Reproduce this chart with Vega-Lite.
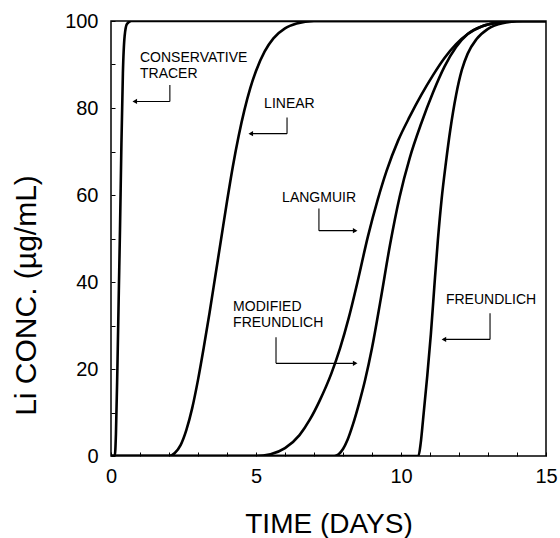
{
  "$schema": "https://vega.github.io/schema/vega-lite/v6.json",
  "width": 435,
  "height": 435,
  "autosize": "none",
  "padding": {"left": 111, "top": 21, "right": 14, "bottom": 82},
  "background": "white",
  "config": {
    "font": "Liberation Sans",
    "view": {"stroke": "black", "strokeWidth": 1.5},
    "axis": {
      "grid": false,
      "domain": false,
      "ticks": true,
      "tickColor": "black",
      "tickSize": -4,
      "tickWidth": 1,
      "labelColor": "black",
      "labelFont": "Liberation Sans",
      "labelFontSize": 20,
      "labelOverlap": false,
      "labelFlush": false,
      "titleColor": "black",
      "titleFont": "Liberation Sans",
      "titleFontSize": 28,
      "titleFontWeight": "normal"
    }
  },
  "datasets": {
    "curves": [
      {"s": "tracer", "t": 0, "c": 0}, {"s": "tracer", "t": 0.13, "c": 0}, {"s": "tracer", "t": 0.17, "c": 5}, {"s": "tracer", "t": 0.22, "c": 20}, {"s": "tracer", "t": 0.27, "c": 38}, {"s": "tracer", "t": 0.31, "c": 52}, {"s": "tracer", "t": 0.36, "c": 72}, {"s": "tracer", "t": 0.41, "c": 88}, {"s": "tracer", "t": 0.47, "c": 96.5}, {"s": "tracer", "t": 0.55, "c": 99.3}, {"s": "tracer", "t": 0.7, "c": 100}, {"s": "tracer", "t": 15, "c": 100},
      {"s": "linear", "t": 0, "c": 0}, {"s": "linear", "t": 2.0, "c": 0}, {"s": "linear", "t": 2.2, "c": 0.7}, {"s": "linear", "t": 2.4, "c": 2.5}, {"s": "linear", "t": 2.6, "c": 6}, {"s": "linear", "t": 2.8, "c": 11}, {"s": "linear", "t": 3.0, "c": 17.5}, {"s": "linear", "t": 3.2, "c": 25}, {"s": "linear", "t": 3.4, "c": 33}, {"s": "linear", "t": 3.6, "c": 41.5}, {"s": "linear", "t": 3.8, "c": 50}, {"s": "linear", "t": 4.0, "c": 58.5}, {"s": "linear", "t": 4.2, "c": 66.5}, {"s": "linear", "t": 4.4, "c": 73.5}, {"s": "linear", "t": 4.6, "c": 79.5}, {"s": "linear", "t": 4.8, "c": 84.5}, {"s": "linear", "t": 5.0, "c": 88.5}, {"s": "linear", "t": 5.3, "c": 93}, {"s": "linear", "t": 5.6, "c": 96}, {"s": "linear", "t": 6.0, "c": 98.3}, {"s": "linear", "t": 6.4, "c": 99.4}, {"s": "linear", "t": 7.0, "c": 100}, {"s": "linear", "t": 15, "c": 100},
      {"s": "langmuir", "t": 0, "c": 0}, {"s": "langmuir", "t": 5.0, "c": 0}, {"s": "langmuir", "t": 5.5, "c": 0.4}, {"s": "langmuir", "t": 6.0, "c": 1.8}, {"s": "langmuir", "t": 6.5, "c": 4.8}, {"s": "langmuir", "t": 6.86, "c": 8.4}, {"s": "langmuir", "t": 7.2, "c": 12.8}, {"s": "langmuir", "t": 7.6, "c": 19}, {"s": "langmuir", "t": 7.9, "c": 24.8}, {"s": "langmuir", "t": 8.2, "c": 31.8}, {"s": "langmuir", "t": 8.5, "c": 40}, {"s": "langmuir", "t": 8.86, "c": 50.5}, {"s": "langmuir", "t": 9.2, "c": 59}, {"s": "langmuir", "t": 9.5, "c": 65.5}, {"s": "langmuir", "t": 9.9, "c": 72.5}, {"s": "langmuir", "t": 10.3, "c": 78}, {"s": "langmuir", "t": 10.7, "c": 83}, {"s": "langmuir", "t": 11.1, "c": 87.5}, {"s": "langmuir", "t": 11.5, "c": 91.5}, {"s": "langmuir", "t": 11.9, "c": 94.7}, {"s": "langmuir", "t": 12.3, "c": 97}, {"s": "langmuir", "t": 12.8, "c": 98.8}, {"s": "langmuir", "t": 13.3, "c": 99.6}, {"s": "langmuir", "t": 14.0, "c": 100}, {"s": "langmuir", "t": 15, "c": 100},
      {"s": "modfreundlich", "t": 0, "c": 0}, {"s": "modfreundlich", "t": 7.7, "c": 0}, {"s": "modfreundlich", "t": 7.85, "c": 0.4}, {"s": "modfreundlich", "t": 8.0, "c": 1.6}, {"s": "modfreundlich", "t": 8.15, "c": 3.6}, {"s": "modfreundlich", "t": 8.34, "c": 7.2}, {"s": "modfreundlich", "t": 8.55, "c": 12}, {"s": "modfreundlich", "t": 8.76, "c": 17.4}, {"s": "modfreundlich", "t": 9.0, "c": 24.8}, {"s": "modfreundlich", "t": 9.3, "c": 36}, {"s": "modfreundlich", "t": 9.62, "c": 48.5}, {"s": "modfreundlich", "t": 9.95, "c": 59.5}, {"s": "modfreundlich", "t": 10.3, "c": 68.5}, {"s": "modfreundlich", "t": 10.7, "c": 76.5}, {"s": "modfreundlich", "t": 11.1, "c": 83.5}, {"s": "modfreundlich", "t": 11.5, "c": 89.5}, {"s": "modfreundlich", "t": 11.9, "c": 94}, {"s": "modfreundlich", "t": 12.3, "c": 97}, {"s": "modfreundlich", "t": 12.8, "c": 98.8}, {"s": "modfreundlich", "t": 13.3, "c": 99.6}, {"s": "modfreundlich", "t": 14.0, "c": 100}, {"s": "modfreundlich", "t": 15, "c": 100},
      {"s": "freundlich", "t": 0, "c": 0}, {"s": "freundlich", "t": 10.6, "c": 0}, {"s": "freundlich", "t": 10.68, "c": 3}, {"s": "freundlich", "t": 10.76, "c": 8.3}, {"s": "freundlich", "t": 10.9, "c": 18}, {"s": "freundlich", "t": 11.03, "c": 28}, {"s": "freundlich", "t": 11.15, "c": 39}, {"s": "freundlich", "t": 11.27, "c": 49.5}, {"s": "freundlich", "t": 11.4, "c": 59}, {"s": "freundlich", "t": 11.55, "c": 67.5}, {"s": "freundlich", "t": 11.7, "c": 75}, {"s": "freundlich", "t": 11.9, "c": 83}, {"s": "freundlich", "t": 12.1, "c": 88.8}, {"s": "freundlich", "t": 12.3, "c": 92.5}, {"s": "freundlich", "t": 12.6, "c": 95.8}, {"s": "freundlich", "t": 13.0, "c": 98.2}, {"s": "freundlich", "t": 13.5, "c": 99.5}, {"s": "freundlich", "t": 14.2, "c": 100}, {"s": "freundlich", "t": 15, "c": 100}
    ],
    "leaders": [
      {"x": 2.03, "y": 85.3, "x2": 2.03, "y2": 81.5},
      {"x": 2.03, "y": 81.5, "x2": 0.8, "y2": 81.5},
      {"x": 6.07, "y": 77.8, "x2": 6.07, "y2": 74.1},
      {"x": 6.07, "y": 74.1, "x2": 4.8, "y2": 74.1},
      {"x": 7.17, "y": 56.9, "x2": 7.17, "y2": 51.8},
      {"x": 7.17, "y": 51.8, "x2": 8.45, "y2": 51.8},
      {"x": 5.69, "y": 27.3, "x2": 5.69, "y2": 21.3},
      {"x": 5.69, "y": 21.3, "x2": 8.45, "y2": 21.3},
      {"x": 13.07, "y": 32.8, "x2": 13.07, "y2": 26.8},
      {"x": 13.07, "y": 26.8, "x2": 11.45, "y2": 26.8}
    ],
    "arrows": [
      {"x": 0.82, "y": 81.5, "shape": "triangle-left"},
      {"x": 4.82, "y": 74.1, "shape": "triangle-left"},
      {"x": 8.42, "y": 51.8, "shape": "triangle-right"},
      {"x": 8.42, "y": 21.3, "shape": "triangle-right"},
      {"x": 11.48, "y": 26.8, "shape": "triangle-left"}
    ],
    "labels": [
      {"x": 1.0, "y": 91.4, "text": "CONSERVATIVE"},
      {"x": 1.0, "y": 87.9, "text": "TRACER"},
      {"x": 5.28, "y": 81.0, "text": "LINEAR"},
      {"x": 5.9, "y": 59.2, "text": "LANGMUIR"},
      {"x": 4.21, "y": 34.3, "text": "MODIFIED"},
      {"x": 4.21, "y": 30.5, "text": "FREUNDLICH"},
      {"x": 11.55, "y": 35.8, "text": "FREUNDLICH"}
    ]
  },
  "encoding": {
    "x": {
      "type": "quantitative",
      "scale": {"domain": [0, 15], "nice": false, "zero": false},
      "axis": {
        "title": "TIME (DAYS)",
        "values": [0, 1, 2, 3, 4, 5, 6, 7, 8, 9, 10, 11, 12, 13, 14, 15],
        "labelExpr": "datum.value % 5 == 0 ? datum.label : ''",
        "labelPadding": 14,
        "titleBaseline": "alphabetic",
        "titleY": 76
      }
    },
    "y": {
      "type": "quantitative",
      "scale": {"domain": [0, 100], "nice": false, "zero": false},
      "axis": {
        "title": "Li CONC. (µg/mL)",
        "titleFontSize": 30,
        "values": [0, 10, 20, 30, 40, 50, 60, 70, 80, 90, 100],
        "labelExpr": "datum.value % 20 == 0 ? datum.label : ''",
        "labelPadding": 17,
        "titleAngle": 270,
        "titleAlign": "center",
        "titleBaseline": "middle",
        "titleX": -85,
        "titleY": 274
      }
    }
  },
  "layer": [
    {
      "data": {"name": "curves"},
      "mark": {"type": "line", "color": "black", "strokeWidth": 2.6, "interpolate": "monotone", "clip": true},
      "encoding": {
        "x": {"field": "t", "type": "quantitative"},
        "y": {"field": "c", "type": "quantitative"},
        "detail": {"field": "s", "type": "nominal"}
      }
    },
    {
      "data": {"name": "leaders"},
      "mark": {"type": "rule", "color": "black", "strokeWidth": 1.1},
      "encoding": {
        "x": {"field": "x", "type": "quantitative"},
        "y": {"field": "y", "type": "quantitative"},
        "x2": {"field": "x2"},
        "y2": {"field": "y2"}
      }
    },
    {
      "data": {"name": "arrows"},
      "mark": {"type": "point", "filled": true, "color": "black", "opacity": 1, "size": 28},
      "encoding": {
        "x": {"field": "x", "type": "quantitative"},
        "y": {"field": "y", "type": "quantitative"},
        "shape": {"field": "shape", "type": "nominal", "scale": null}
      }
    },
    {
      "data": {"name": "labels"},
      "mark": {"type": "text", "align": "left", "baseline": "middle", "font": "Liberation Sans", "fontSize": 14, "color": "black"},
      "encoding": {
        "x": {"field": "x", "type": "quantitative"},
        "y": {"field": "y", "type": "quantitative"},
        "text": {"field": "text"}
      }
    }
  ]
}
